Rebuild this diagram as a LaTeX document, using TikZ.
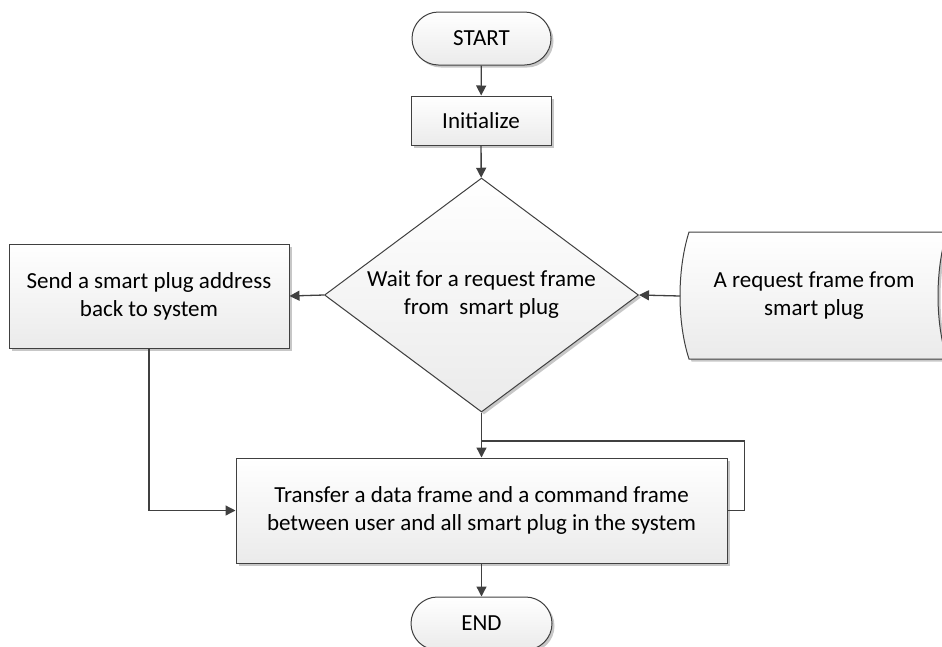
\documentclass[tikz,border=0pt]{standalone}
\usepackage{fontspec}
\setmainfont{Carlito}
\usetikzlibrary{arrows.meta,shapes.geometric,shadows}
\definecolor{edge}{HTML}{404040}
\begin{document}
\begin{tikzpicture}[x=1pt,y=-1pt,
  font=\fontsize{23}{28}\selectfont,
  boxbase/.style={draw=edge,line width=1pt,top color=white,bottom color=black!8,
    drop shadow={shadow xshift=2.5pt,shadow yshift=-2.5pt,opacity=0.22,fill=black},
    inner sep=0pt,align=center},
  procbox/.style={boxbase,rectangle},
  termbox/.style={boxbase,rectangle,rounded corners=26.5pt},
  decbox/.style={boxbase,diamond},
  line/.style={draw=edge,line width=1.3pt},
  arr/.style={line,-{Triangle[length=10pt,width=10pt]}}]
\useasboundingbox (0,0) rectangle (942,646);
\clip (0,0) rectangle (942,646);

% flow steps
\node[termbox,minimum width=139pt,minimum height=53pt] (start) at (481.5,38.5) {START};
\node[procbox,minimum width=140pt,minimum height=49pt] (init) at (481,120.5) {Initialize};
\node[decbox,minimum width=314pt,minimum height=234pt,
  label={[align=center,inner sep=0pt]center:Wait for a request frame\\from\ \ smart plug}]
  (wait) at (481.5,295) {};
\node[procbox,minimum width=280pt,minimum height=104pt] (send) at (149,296)
  {Send a smart plug address\\back to system};
\node[procbox,minimum width=491pt,minimum height=105pt] (xfer) at (481.5,510.5)
  {Transfer a data frame and a command frame\\between user and all smart plug in the system};
\node[termbox,minimum width=141pt,minimum height=53pt] (end) at (481.5,623.5) {END};

% stored-data symbol for the incoming request frame
\path[draw=edge,line width=1pt,top color=white,bottom color=black!8,
    drop shadow={shadow xshift=2.5pt,shadow yshift=-2.5pt,opacity=0.22,fill=black}]
  (689,232) -- (947,232) .. controls (935,270) and (935,322) .. (947,359)
  -- (689,359) .. controls (677,322) and (677,270) .. (689,232) -- cycle;
\node[align=center,inner sep=0pt] (req) at (814,296) {A request frame from\\smart plug};
\coordinate (reqin) at (680,296);
\coordinate (join) at (481.5,441);

% connectors
\draw[arr] (start) -- (init);
\draw[arr] (init) -- (wait);
\draw[arr] (reqin) -- (wait.east);
\draw[arr] (wait.west) -- (send.east);
\draw[arr] (wait.south) -- (xfer.north);
\draw[arr] (send.south) |- (xfer.west);
\draw[line] (xfer.east) -- ++(17,0) |- (join);
\draw[arr] (xfer) -- (end);
\end{tikzpicture}
\end{document}
